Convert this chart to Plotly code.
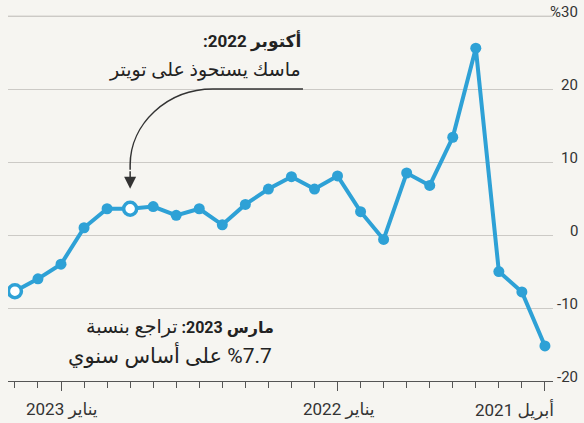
import plotly.graph_objects as go

# ---------------- data ----------------
months = ["2021-04", "2021-05", "2021-06", "2021-07", "2021-08", "2021-09",
          "2021-10", "2021-11", "2021-12", "2022-01", "2022-02", "2022-03",
          "2022-04", "2022-05", "2022-06", "2022-07", "2022-08", "2022-09",
          "2022-10", "2022-11", "2022-12", "2023-01", "2023-02", "2023-03"]
values = [-15.2, -7.8, -5.0, 25.6, 13.4, 6.8,
          8.5, -0.6, 3.2, 8.1, 6.3, 8.0,
          6.3, 4.2, 1.4, 3.6, 2.7, 3.9,
          3.6, 3.6, 1.0, -4.0, -6.0, -7.7]
hollow_months = ["2022-10", "2023-03"]

x_tick_months = ["2021-04", "2022-01", "2023-01"]
x_tick_labels = ["أبريل 2021", "يناير 2022", "يناير 2023"]
y_tick_values = [-20, -10, 0, 10, 20, 30]
y_tick_labels = ["-20", "-10", "0", "10", "20", "%30"]

note_oct_title = "أكتوبر 2022:"
note_oct_text = "ماسك يستحوذ على تويتر"
note_mar_title = "مارس 2023:"
note_mar_text = "تراجع بنسبة"
note_mar_text2 = "%7.7 على أساس سنوي"

# ---------------- styling ----------------
BG = "#f6f5f1"
BLUE = "#2ea1d6"
GRID = "#cccac6"
AXIS = "#555555"
TXT = "#222222"
FONT = "Roboto, 'Noto Sans', 'DejaVu Sans', sans-serif"

RLE, PDF = "\u202b", "\u202c"


def rtl(s):
    return RLE + s + PDF


idx = list(range(len(months)))
is_hollow = [m in hollow_months for m in months]
m_color = ["white" if h else BLUE for h in is_hollow]
m_size = [13 if h else 11 for h in is_hollow]
m_lw = [3.5 if h else 0 for h in is_hollow]

fig = go.Figure()
fig.add_trace(go.Scatter(
    x=idx, y=values, mode="lines+markers",
    line=dict(color=BLUE, width=4),
    marker=dict(color=m_color, size=m_size, opacity=1,
                line=dict(color=BLUE, width=m_lw)),
    hoverinfo="skip", showlegend=False,
))

annotations = []
# y tick labels (right aligned, right side)
for v, t in zip(y_tick_values, y_tick_labels):
    annotations.append(dict(
        x=1, xref="paper", y=v, yref="y", text=t, showarrow=False,
        xanchor="right", yanchor="middle", xshift=27, yshift=4,
        font=dict(family=FONT, size=15, color="#333333")))

# x tick labels
for m, t in zip(x_tick_months, x_tick_labels):
    i = months.index(m)
    anchor = "right" if i == 0 else "center"
    shift = 11 if i == 0 else 1
    annotations.append(dict(
        x=i, xref="x", y=0, yref="paper", text=rtl(t), showarrow=False,
        xanchor=anchor, yanchor="middle", xshift=shift, yshift=-28,
        font=dict(family=FONT, size=17, color="#333333")))

oct_i = months.index("2022-10")
oct_v = values[oct_i]

# October note
annotations.append(dict(
    x=10.5, xref="x", y=26.6, yref="y", text=rtl("<b>" + note_oct_title + "</b>"),
    showarrow=False, xanchor="right", yanchor="middle",
    font=dict(family=FONT, size=17, color=TXT)))
annotations.append(dict(
    x=10.5, xref="x", y=22.7, yref="y", text=rtl(note_oct_text),
    showarrow=False, xanchor="right", yanchor="middle",
    font=dict(family=FONT, size=19, color=TXT)))

# March note
annotations.append(dict(
    x=11.68, xref="x", y=-12.5, yref="y",
    text=rtl("<b>" + note_mar_title + "</b> <span style='font-size:19px'>"
             + note_mar_text + "</span>"),
    showarrow=False, xanchor="right", yanchor="middle",
    font=dict(family=FONT, size=16, color=TXT)))
annotations.append(dict(
    x=11.75, xref="x", y=-16.4, yref="y", text=rtl(note_mar_text2),
    showarrow=False, xanchor="right", yanchor="middle",
    font=dict(family=FONT, size=21, color=TXT)))

# arrow shaft end + head pointing at October point
annotations.append(dict(
    x=oct_i, y=oct_v, xref="x", yref="y", text="", showarrow=True,
    ax=0, ay=-39, arrowhead=2, arrowsize=1.6, arrowwidth=1.5,
    arrowcolor="#333333", standoff=20))

shaft_top = oct_v + 39 / 7.3
curve = (f"M 10.5,20 L 14.41,20 C 16.38,20 {oct_i},15.26 {oct_i},9.59 "
         f"L {oct_i},{shaft_top:.2f}")

top_grid = max(y_tick_values)

fig.update_layout(
    width=584, height=423,
    margin=dict(l=8, r=31, t=15, b=42),
    paper_bgcolor=BG, plot_bgcolor=BG,
    annotations=annotations,
    shapes=[
        dict(type="line", xref="paper", x0=0, x1=1, yref="y",
             y0=top_grid, y1=top_grid, layer="below",
             line=dict(color=GRID, width=1)),
        dict(type="path", path=curve, xref="x", yref="y",
             line=dict(color="#333333", width=1.5)),
    ],
    font=dict(family=FONT),
)
fig.update_xaxes(
    range=[23.3, -0.35], showgrid=False, zeroline=False,
    showline=True, linecolor=AXIS, linewidth=1,
    tickmode="array", tickvals=[months.index(m) for m in x_tick_months],
    ticks="outside", ticklen=9, tickcolor=AXIS, tickwidth=1,
    showticklabels=False,
    minor=dict(tickmode="linear", tick0=0, dtick=1, ticks="outside",
               ticklen=6, tickcolor=AXIS, tickwidth=1),
)
fig.update_yaxes(
    range=[-20, 30.15], tickvals=y_tick_values, showticklabels=False,
    showgrid=True, gridcolor=GRID, gridwidth=1, zeroline=False,
    ticks="",
)

fig.write_html("out.html", config={"displayModeBar": False},
               post_script="document.body.style.margin='0';"
                           "document.body.style.background='" + BG + "';")
